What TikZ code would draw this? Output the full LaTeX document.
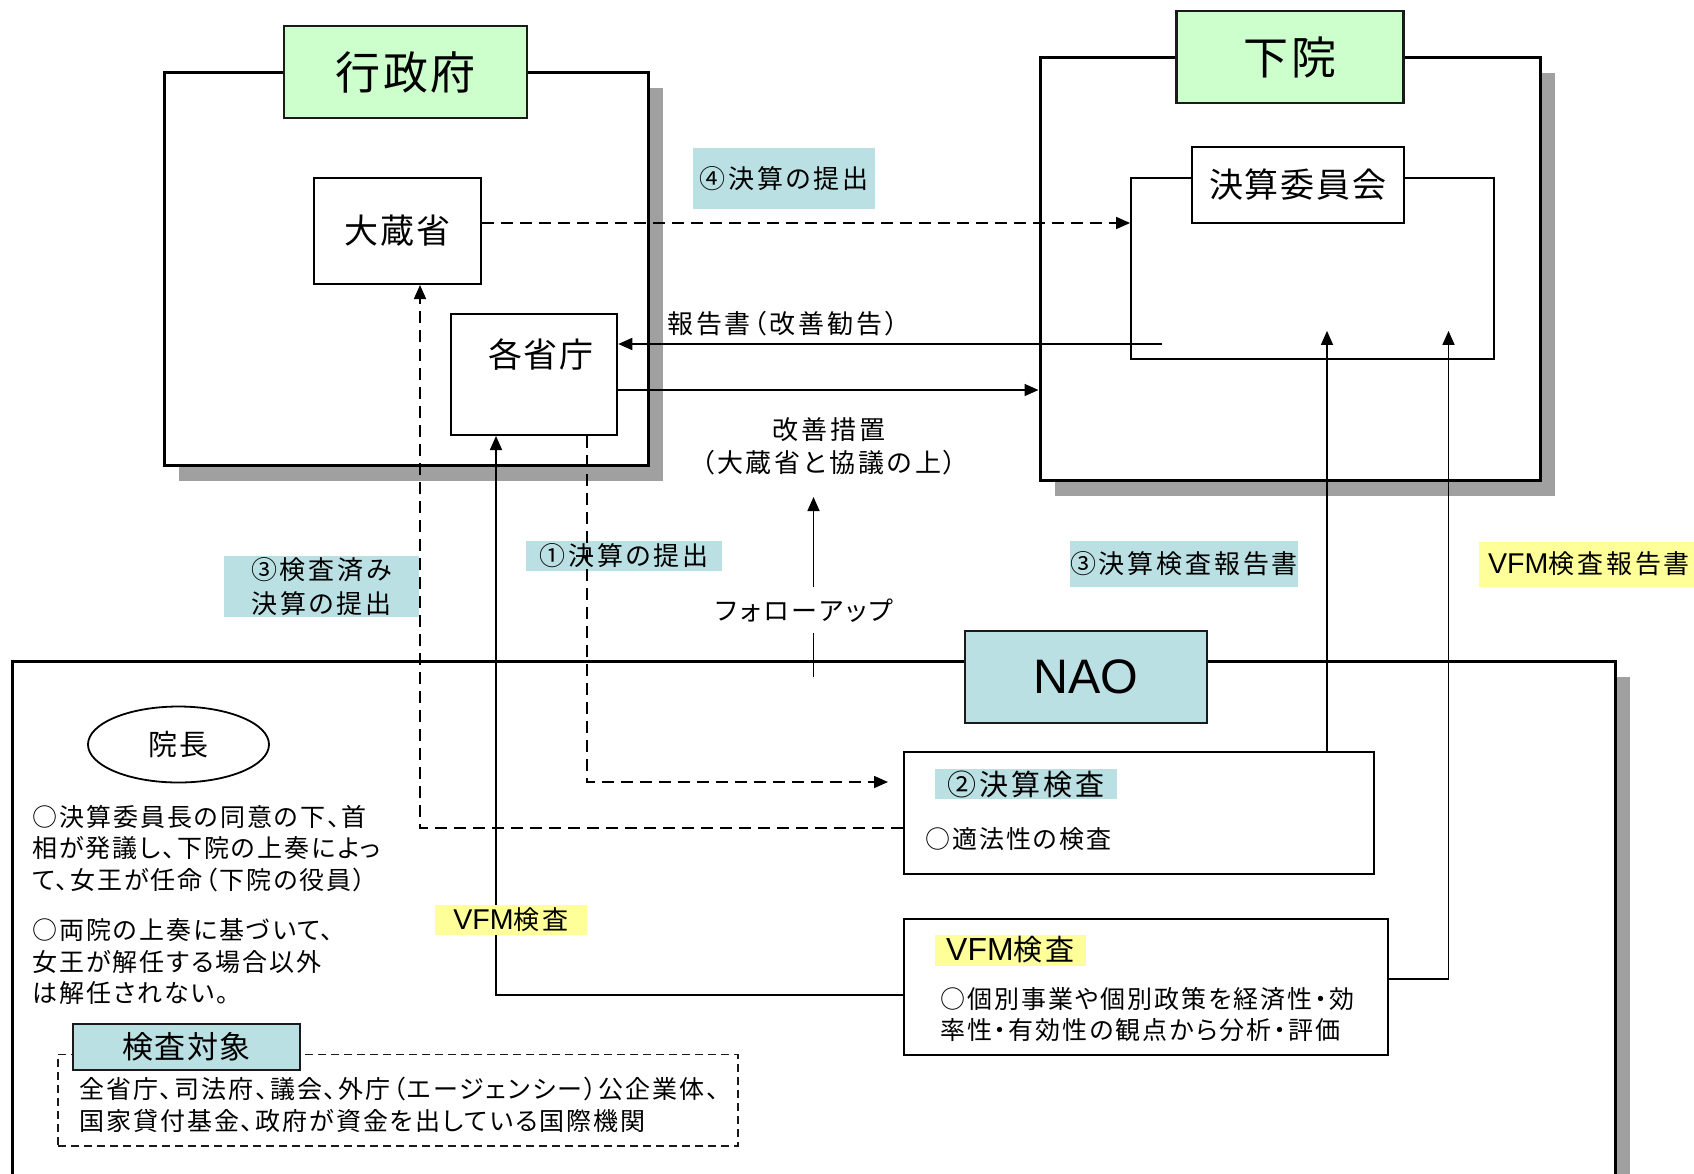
\documentclass[tikz,border=0pt]{standalone}
\usepackage{fontspec}
\setmainfont{Noto Sans CJK JP}
\newfontfamily\dgJt{Noto Sans CJK JP}[LetterSpace=5]
\newfontfamily\dgJb{Noto Sans CJK JP}[LetterSpace=8,RawFeature=+palt]
\newfontfamily\dgJl{Noto Sans CJK JP}[LetterSpace=11,RawFeature=+palt]
\newfontfamily\dgLat{Liberation Sans}[Scale=1.1]
\usetikzlibrary{arrows.meta,shapes.geometric,shadows}
\definecolor{lgreen}{HTML}{CCFFCC}
\definecolor{lteal}{HTML}{BBE0E3}
\definecolor{lyellow}{HTML}{FFFF99}
\definecolor{shgray}{HTML}{A0A0A0}
\definecolor{edge}{HTML}{1A1A1A}
\newcommand\dgTitle[1]{\dgJt\fontsize{#1}{#1}\selectfont}
\newcommand\dgBody{\dgJb\fontsize{25}{31.5}\selectfont}
\newcommand\dgLab[1]{\dgJl\fontsize{#1}{34}\selectfont}
\newcommand\dgVFM{{\dgLat VFM}}
\begin{document}
\begin{tikzpicture}[x=1pt,y=-1pt,
  shadowed/.style={drop shadow={shadow xshift=15pt,shadow yshift=-16pt,fill=shgray,opacity=1}},
  outer/.style={draw=black,line width=3pt,fill=white,inner sep=0pt,shadowed},
  titlebox/.style={draw=edge,line width=2.8pt,inner sep=0pt},
  inbox/.style={draw=black,line width=2pt,fill=white,inner sep=0pt},
  tag/.style={inner sep=0pt,font=\dgLab{26}},
  conn/.style={line width=1.6pt,-{Triangle[length=14pt,width=12pt]}},
  dashconn/.style={conn,dash pattern=on 12pt off 7pt},
  bodytext/.style={anchor=north west,align=left,inner sep=0pt,font=\dgBody}
]
\useasboundingbox (0,0) rectangle (1694,1173);
\clip (0,0) rectangle (1694,1173);

% big frames
\node[outer,minimum width=484pt,minimum height=393pt] (gov) at (406,268.5) {};
\node[outer,minimum width=500pt,minimum height=423pt] (kain) at (1290,268.5) {};
\node[outer,minimum width=1603pt,minimum height=560pt] (nao) at (813.5,941) {};

% frame titles
\node[titlebox,fill=lgreen,minimum width=243pt,minimum height=92pt,font=\dgTitle{45}] (govt) at (405.5,72) {行政府};
\node[titlebox,fill=lgreen,minimum width=227pt,minimum height=92pt,font=\dgTitle{45}] (kaint) at (1290,57) {下院};
\node[titlebox,fill=lteal,minimum width=242pt,minimum height=92pt,font=\dgLat\fontsize{44}{50}\selectfont] (naot) at (1086,677) {NAO};

% government
\node[inbox,minimum width=167pt,minimum height=106pt,font=\dgTitle{34}] (okura) at (397.5,231) {大蔵省};
\node[inbox,minimum width=166.5pt,minimum height=121pt] (kakusho) at (534,374.5) {};
\node[inner sep=0pt,font=\dgTitle{34}] (kakushot) at ([xshift=7pt,yshift=19.5pt]kakusho.center) {各省庁};

% house of commons
\node[draw=black,line width=1.8pt,fill=white,inner sep=0pt,minimum width=363pt,minimum height=181pt] (iinkai) at (1312.5,268.5) {};
\node[inbox,line width=1.8pt,minimum width=212pt,minimum height=76pt,font=\dgTitle{34}] (iinkait) at (1297.6,185) {決算委員会};

% NAO contents
\node[inbox,minimum width=470pt,minimum height=122pt] (kessan) at (1139,813) {};
\node[tag,fill=lteal,minimum width=182pt,minimum height=30pt,font=\dgLab{29}] (kessant) at (1026,784) {②決算検査};
\node[anchor=west,inner sep=0pt,font=\dgBody] (tekiho) at (925,839) {○適法性の検査};

\node[inbox,minimum width=484pt,minimum height=136pt] (vfm) at (1146,987) {};
\node[tag,fill=lyellow,minimum width=151pt,minimum height=31pt,font=\dgLab{29}] (vfmt) at (1010.5,950) {\dgVFM 検査};
\node[bodytext] (vfmtxt) at (940,987) {○個別事業や個別政策を経済性・効\\率性・有効性の観点から分析・評価};

\node[draw=black,ellipse,line width=1.8pt,inner sep=0pt,minimum width=181pt,minimum height=76pt,font=\dgTitle{29}] (inchou) at (178.5,744.5) {院長};
\node[bodytext] (p1) at (32,805) {○決算委員長の同意の下、首\\相が発議し、下院の上奏によっ\\て、女王が任命（下院の役員）};
\node[bodytext] (p2) at (32,918.5) {○両院の上奏に基づいて、\\女王が解任する場合以外\\は解任されない。};

\node[draw=edge,line width=1.5pt,dash pattern=on 8pt off 5pt,inner sep=0pt,minimum width=680pt,minimum height=91.4pt] (taisho) at (398,1100.3) {};
\node[draw=edge,line width=2pt,fill=lteal,inner sep=0pt,minimum width=227pt,minimum height=46.5pt,font=\dgTitle{31}] (taishot) at (186.5,1047) {検査対象};
\node[bodytext] (taishotxt) at (79,1077) {全省庁、司法府、議会、外庁（エージェンシー）公企業体、\\国家貸付基金、政府が資金を出している国際機関};

% labels below connectors
\node[tag,fill=lteal,minimum width=182pt,minimum height=61pt] (l4) at (784,178.5) {④決算の提出};
\node[anchor=west,inner sep=0pt,font=\dgLab{26}] (lrep) at (667,324) {報告書（改善勧告）};
\node[align=center,inner sep=0pt,font=\dgLab{26}] (lkaizen) at (829,446.5) {改善措置\\[-1pt]（大蔵省と協議の上）};
\node[tag,fill=lteal,minimum width=195pt,minimum height=60.7pt,align=center] (l3a) at (321.5,586.3) {③検査済み\\決算の提出};
\node[tag,fill=lteal,minimum width=196pt,minimum height=30pt] (l1) at (624,555.7) {①決算の提出};
\node[tag,fill=lteal,minimum width=228pt,minimum height=45.7pt] (l3b) at (1184,564) {③決算検査報告書};
\node[tag,fill=lyellow,minimum width=220pt,minimum height=45pt] (lvfmr) at (1589,564.2) {\dgVFM 検査報告書};

% connectors
\coordinate (c4) at ([yshift=8pt]okura.east);
\draw[dashconn] (c4) -- (c4 -| iinkai.west);

\coordinate (crep) at (1162,344);
\draw[conn] (crep) -- (crep -| kakusho.east);

\coordinate (ckai) at ([yshift=-15.5pt]kakusho.east);
\draw[conn] (ckai) -- (ckai -| kain.west);

\coordinate (fu0) at (813.5,677);
\coordinate (fu1) at (813.5,497);
\draw[conn] (fu0) -- node[pos=0.37,xshift=-9pt,fill=white,inner xsep=2pt,inner ysep=0pt,minimum height=46pt,font=\dgLab{26}] (lfu) {フォローアップ} (fu1);

\draw[dashconn] ([yshift=-15pt]kessan.west) -| ([xshift=22.5pt]okura.south);
\draw[dashconn] ([xshift=53pt]kakusho.south) |- ([xshift=-15pt,yshift=31pt]kessan.west);
\draw[conn] ([yshift=-8pt]vfm.west) -| ([xshift=-38pt]kakusho.south);

\coordinate (ctip) at ([yshift=29pt]iinkai.south);
\coordinate (ck) at ([xshift=188pt]kessan.north);
\draw[conn] (ck) -- (ck |- ctip);
\coordinate (cv) at ([yshift=8pt]vfm.east);
\draw[conn] (cv) -| ([xshift=136pt]ctip);

% label above connector
\node[tag,fill=lyellow,minimum width=152pt,minimum height=30pt] (lvfm) at (511,920) {\dgVFM 検査};
\end{tikzpicture}
\end{document}
